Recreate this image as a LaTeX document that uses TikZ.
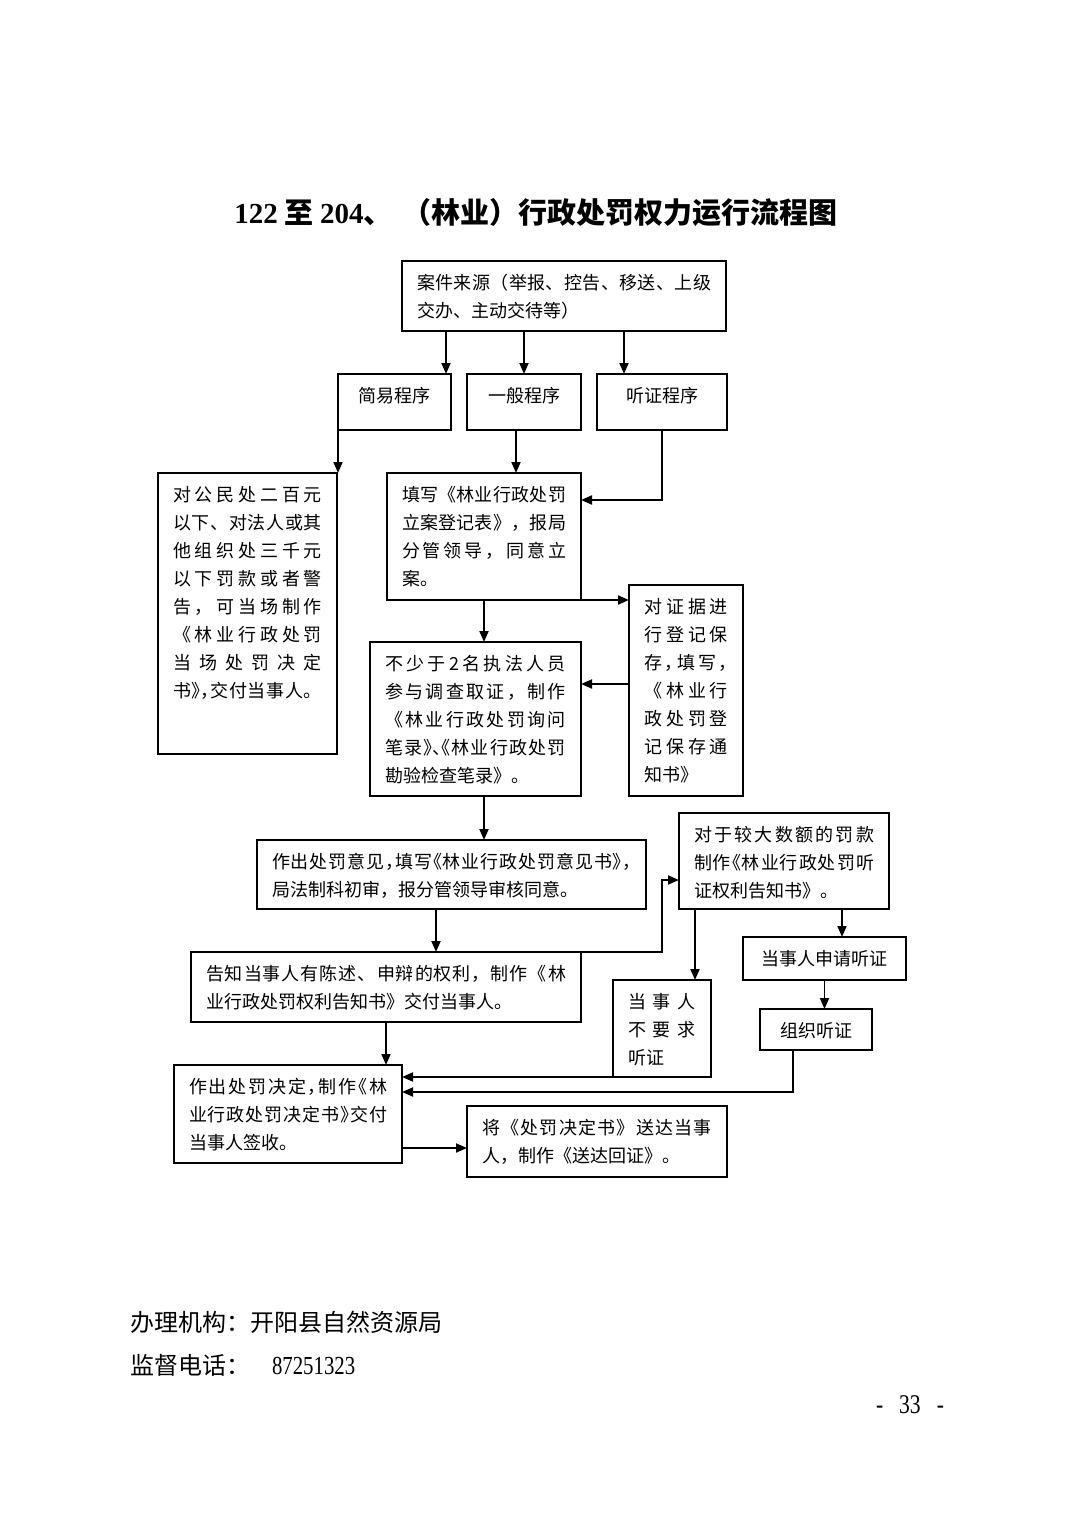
\documentclass[tikz,border=0pt]{standalone}
\usepackage{fontspec}
\setmainfont{Noto Sans CJK SC}
\newfontfamily\hp[RawFeature=+halt]{Noto Sans CJK SC}
\newfontfamily\tnr{Liberation Serif}
\newfontfamily\tnrn[FakeStretch=0.8]{Liberation Serif}
\usetikzlibrary{arrows.meta,calc}
\newcommand\strutA{\rule{0pt}{28pt}}
\ExplSyntaxOn
\NewDocumentCommand \Jl { m }
 {
  \hbox to \linewidth
   {
    \strutA
    \bool_set_false:N \l_tmpa_bool
    \tl_map_inline:nn { #1 }
     {
      \bool_if:NT \l_tmpa_bool { \hfil }
      \bool_set_true:N \l_tmpa_bool
      { ##1 }
     }
   }
 }
\ExplSyntaxOff
\newcommand\Ln[1]{\hbox{\strutA#1}}
\newcommand\bx[6]{%
  \node[box, minimum width={#4-#2}, minimum height={#5-#3}] (#1) at ({(#2+#4)/2},{(#3+#5)/2})
  {\parbox[c][\dimexpr#5pt-#3pt\relax][t]{\dimexpr#4pt-#2pt-30pt\relax}{\fontsize{18}{28}\selectfont\baselineskip=28pt\lineskiplimit=-1000pt #6}};}
\begin{document}
\begin{tikzpicture}[x=1pt,y=-1pt,
  box/.style={draw,line width=1.3pt,inner sep=0pt,outer sep=0pt},
  arr/.style={line width=1.9pt,-{Triangle[length=11pt,width=9pt]}},
  plain/.style={inner sep=0pt,outer sep=0pt}]
\fill[white] (0,0) rectangle (1074,1520);
\useasboundingbox (0,0) rectangle (1074,1520);

\node[plain] (title) at (536,213) {\fontsize{29}{32}\selectfont\bfseries{\tnr 122} 至 {\tnr 204}、\hspace{10pt}（林业）行政处罚权力运行流程图};

\bx{src}{402}{261}{726}{331}{\Jl{案件来源（举报、控告、移送、上级}\Ln{交办、主动交待等）}}
\bx{jy}{338}{374}{451}{430}{\Ln{简易程序}}
\bx{yb}{467}{374}{581}{430}{\Ln{一般程序}}
\bx{tz}{597}{374}{727}{430}{\Ln{听证程序}}
\bx{simple}{158}{473}{337}{754}{\Jl{对公民处二百元}\Jl{以下、对法人或其}\Jl{他组织处三千元}\Jl{以下罚款或者警}\Jl{告，可当场制作}\Jl{《林业行政处罚}\Jl{当场处罚决定}\Jl{书{\hp 》，}交付当事人。}}
\bx{fill}{387}{473}{581}{600}{\Jl{填写《林业行政处罚}\Jl{立案登记表》，报局}\Jl{分管领导，同意立}\Ln{案。}}
\bx{inv}{370}{642}{581}{796}{\Jl{不少于2名执法人员}\Jl{参与调查取证，制作}\Jl{《林业行政处罚询问}\Jl{笔录{\hp 》、《}林业行政处罚}\Ln{勘验检查笔录》。}}
\bx{evid}{629}{585}{743}{796}{\Jl{对证据进}\Jl{行登记保}\Jl{存{\hp ，}填写{\hp ，}}\Jl{《林业行}\Jl{政处罚登}\Jl{记保存通}\Ln{知书》}}
\bx{opin}{257}{840}{646}{909}{\Jl{作出处罚意见{\hp ，}填写{\hp 《}林业行政处罚意见书{\hp 》，}}\Ln{局法制科初审，报分管领导审核同意。}}
\bx{noti}{191}{952}{581}{1022}{\Jl{告知当事人有陈述、申辩的权利，制作《林}\Ln{业行政处罚权利告知书》交付当事人。}}
\bx{tzgz}{679}{813}{889}{909}{\Jl{对于较大数额的罚款}\Jl{制作{\hp 《}林业行政处罚听}\Ln{证权利告知书》。}}
\bx{sq}{743}{937}{906}{980}{\Ln{当事人申请听证}}
\bx{org}{760}{1009}{872}{1050}{\Ln{组织听证}}
\bx{nrq}{613}{980}{711}{1077}{\Jl{当事人}\Jl{不要求}\Ln{听证}}
\bx{dec}{174}{1065}{402}{1163}{\Jl{作出处罚决定{\hp ，}制作{\hp 《}林}\Jl{业行政处罚决定书{\hp 》}交付}\Ln{当事人签收。}}
\bx{send}{467}{1106}{727}{1177}{\Jl{将《处罚决定书》送达当事}\Ln{人，制作《送达回证》。}}

% connectors
\coordinate (a1) at ([xshift=-5pt]jy.north east);
\draw[arr] (a1 |- src.south) -- (a1);
\draw[arr] (yb.north |- src.south) -- (yb.north);
\coordinate (a3) at ([xshift=-38pt]tz.north);
\draw[arr] (a3 |- src.south) -- (a3);
\draw[arr] (jy.south west) -- (jy.south west |- simple.north);
\coordinate (a5) at ([xshift=-8pt]yb.south);
\draw[arr] (a5) -- (a5 |- fill.north);
\draw[arr] (tz.south) |- ([yshift=-27pt]fill.north east);
\draw[arr] (fill.south) -- (fill.south |- inv.north);
\draw[arr] (fill.south east) -- (fill.south east -| evid.west);
\coordinate (a9) at ([yshift=6.5pt]evid.west);
\draw[arr] (a9) -- (a9 -| inv.east);
\draw[arr] (fill.south |- inv.south) -- (fill.south |- opin.north);
\coordinate (b1) at ([xshift=-15.5pt]opin.south);
\draw[arr] (b1) -- (b1 |- noti.north);
\coordinate (b2) at ([yshift=-19pt]tzgz.west);
\draw[arr] (noti.north east) -| ([xshift=-17pt]b2) -- (b2);
\coordinate (b3) at ([xshift=16pt]tzgz.south west);
\draw[arr] (b3) -- (b3 |- nrq.north);
\coordinate (b4) at ([xshift=-47pt]tzgz.south east);
\draw[arr] (b4) -- (b4 |- sq.north);
\draw[arr] (sq.south) -- (sq.south |- org.north);
\draw[arr] (nrq.south west) -- (nrq.south west -| dec.east);
\coordinate (b5) at ([xshift=-23pt]org.south);
\coordinate (b6) at ([yshift=-27pt]dec.north east);
\draw[arr] (b5) |- (b6);
\draw[arr] (noti.south) -- (noti.south |- dec.north);
\coordinate (b7) at ([yshift=15pt]dec.south east);
\draw[arr] (b7) -- (b7 -| send.west);

% footer
\node[plain,anchor=west] (agency) at (130,1322) {\fontsize{24}{26}\selectfont 办理机构：开阳县自然资源局};
\node[plain,anchor=west] (tel) at (130,1365) {\fontsize{24}{26}\selectfont 监督电话：\hspace{22pt}{\tnrn\fontsize{26}{28}\selectfont 87251323}};
\node[plain] (pg) at (910,1405) {\tnrn\fontsize{27}{28}\selectfont -\hspace{16pt}33\hspace{16pt}-};
\end{tikzpicture}
\end{document}
